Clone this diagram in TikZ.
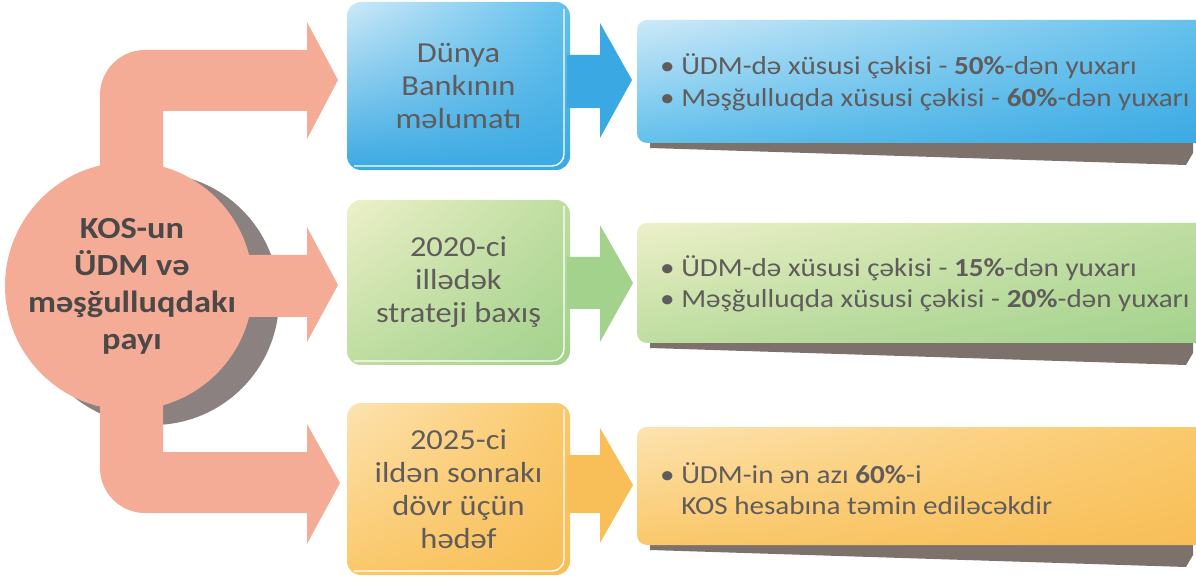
\documentclass[tikz,border=0pt]{standalone}
\usepackage{fontspec}
\setmainfont{Carlito}[FakeStretch=1.12]
\usetikzlibrary{shadings}
\definecolor{pinkA}{HTML}{F5AC96}
\definecolor{shadowgray}{HTML}{8A8180}
\definecolor{boxshadow}{HTML}{7D716C}
\definecolor{txtgray}{HTML}{615C5C}
\definecolor{hubtxt}{HTML}{4D4848}
\definecolor{bluelight}{HTML}{CDE9F8}
\definecolor{bluemid}{HTML}{62C0EC}
\definecolor{bluedark}{HTML}{3AA9E3}
\definecolor{greenlight}{HTML}{EDF0C9}
\definecolor{greenmid}{HTML}{BEDDA0}
\definecolor{greendark}{HTML}{A2D28C}
\definecolor{orangelight}{HTML}{FDE3B0}
\definecolor{orangemid}{HTML}{FAC86A}
\definecolor{orangedark}{HTML}{F8BE57}
\begin{document}
\begin{tikzpicture}[x=1pt,y=1pt,
  lbox/.style={rounded corners=14pt, inner sep=0pt, minimum width=223pt, align=center,
    text=txtgray, font=\fontsize{29}{33}\selectfont},
  rbox/.style={rounded corners=10pt, inner sep=0pt, minimum width=573pt},
  rtext/.style={anchor=west, align=left, inner sep=0pt, text=txtgray,
    font=\fontsize{26}{31.5}\selectfont},
  hubtext/.style={align=center, inner sep=0pt, text=hubtxt,
    font=\bfseries\fontsize{30.7}{37}\selectfont},
  bevel/.style={draw=white, line width=1.4pt, rounded corners=12pt}]
\useasboundingbox (0,0) rectangle (1196,584);
\fill[white] (0,0) rectangle (1196,584);

% ---- hub shadow ----
\fill[shadowgray] (153,285) circle[radius=126];
% ---- upper and lower pink arrows ----
\fill[pinkA] (100,400) -- (100,489) arc[start angle=180,end angle=90,radius=45]
  -- (307,534) -- (307,562) -- (338,504) -- (307,445) -- (307,473) -- (163,473) -- (163,400) -- cycle;
\fill[pinkA] (100,200) -- (100,116) arc[start angle=180,end angle=270,radius=45]
  -- (307,71) -- (307,40) -- (340,101) -- (307,160) -- (307,132) -- (163,132) -- (163,200) -- cycle;
% ---- hub ----
\node[circle, fill=pinkA, minimum size=248pt, inner sep=0pt] (hub) at (129,298) {};
% ---- middle pink arrow ----
\fill[pinkA] (230,267) -- (307,267) -- (307,242) -- (338,299) -- (307,357) -- (307,329) -- (230,329) -- cycle;
\node[hubtext] (hubt) at (132,298) {KOS-un\\ÜDM və\\məşğulluqdakı\\payı};

% ---- left boxes ----
\node[lbox, minimum height=168pt, shade, upper left=bluelight, upper right=bluemid,
  lower left=bluedark, lower right=bluedark] (b1) at (458.5,498) {Dünya\\Bankının\\məlumatı};
\node[lbox, minimum height=165pt, shade, upper left=greenlight, upper right=greenmid,
  lower left=greenmid, lower right=greendark] (b2) at (458.5,301.5) {2020-ci\\illədək\\strateji baxış};
\node[lbox, minimum height=172pt, shade, upper left=orangelight, upper right=orangemid,
  lower left=orangemid, lower right=orangedark] (b3) at (458.5,95) {2025-ci\\ildən sonrakı\\dövr üçün\\hədəf};
\draw[bevel] (354,418) -- (564,418) -- (564,575);
\draw[bevel] (354,223) -- (564,223) -- (564,378);
\draw[bevel] (354,13) -- (564,13) -- (564,175);

% ---- small arrows ----
\fill[bluedark] (567,476) -- (600,476) -- (600,446) -- (632,504) -- (600,561) -- (600,529) -- (567,529) -- cycle;
\fill[greendark] (567,275) -- (600,275) -- (600,242) -- (633,301) -- (600,359) -- (600,327) -- (567,327) -- cycle;
\fill[orangedark] (567,71) -- (600,71) -- (600,41) -- (633,99) -- (600,156) -- (600,129) -- (567,129) -- cycle;

% ---- right box shadows ----
\fill[boxshadow] (650,442) -- (650,436) -- (1186,419) -- (1193,431) -- (1193,442) -- cycle;
\fill[boxshadow] (650,242) -- (650,236) -- (1186,219) -- (1193,231) -- (1193,242) -- cycle;
\fill[boxshadow] (650,40) -- (650,34) -- (1186,17) -- (1193,29) -- (1193,40) -- cycle;

% ---- right boxes ----
\node[rbox, minimum height=123pt, shade, upper left=bluelight, upper right=bluemid,
  lower left=bluemid, lower right=bluedark] (r1) at (923.5,502.5) {};
\node[rbox, minimum height=120pt, shade, upper left=greenlight, upper right=greenmid,
  lower left=greenmid, lower right=greendark] (r2) at (923.5,301) {};
\node[rbox, minimum height=118pt, shade, upper left=orangelight, upper right=orangemid,
  lower left=orangemid, lower right=orangedark] (r3) at (923.5,98) {};

\node[rtext] (t1) at (660,501.5) {\textbullet\ ÜDM-də xüsusi çəkisi - \textbf{50\%}-dən yuxarı\\
  \textbullet\ Məşğulluqda xüsusi çəkisi - \textbf{60\%}-dən yuxarı};
\node[rtext] (t2) at (660,300) {\textbullet\ ÜDM-də xüsusi çəkisi - \textbf{15\%}-dən yuxarı\\
  \textbullet\ Məşğulluqda xüsusi çəkisi - \textbf{20\%}-dən yuxarı};
\node[rtext] (t3) at (660,95.5) {\textbullet\ ÜDM-in ən azı \textbf{60\%}-i\\
  \phantom{\textbullet\ }KOS hesabına təmin ediləcəkdir};
\end{tikzpicture}
\end{document}
